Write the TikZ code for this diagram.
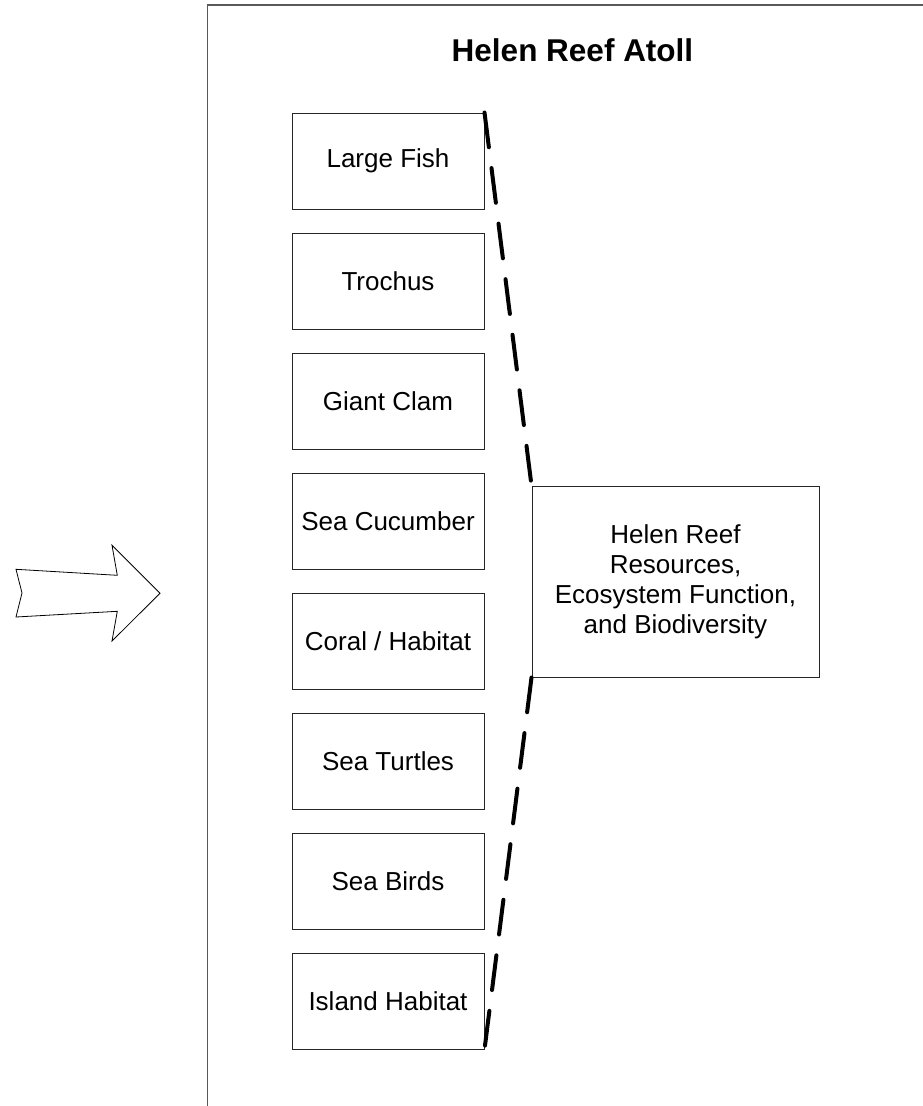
\documentclass[tikz,border=0pt]{standalone}
\usepackage{fontspec}
\setmainfont{Liberation Sans}
\begin{document}
\begin{tikzpicture}[x=1pt,y=-1pt,
  item/.style={draw=black!85, line width=1pt, minimum width=192pt, minimum height=96pt, inner sep=0pt, font=\fontsize{26}{30}\selectfont, align=center},
  bigbox/.style={draw=black!85, line width=1pt, minimum width=287pt, minimum height=191pt, inner sep=0pt, font=\fontsize{26}{30}\selectfont, align=center},
  link/.style={line width=4pt, dash pattern=on 35pt off 21pt, line cap=round},
  frame/.style={draw=black!65, line width=1.5pt}]
\useasboundingbox (0,0) rectangle (922,1106);
% frame
\draw[frame] (207.5,1110) -- (207.5,5) -- (930,5);
% title
\node[anchor=base, inner sep=0pt, font=\fontsize{31.5}{36}\selectfont\bfseries] (title) at (572.5,61) {Helen Reef Atoll};
% input arrow
\draw[line width=0.8pt, fill=white] (16,569.3) -- (117.3,575.3) -- (112,545.3) -- (160,593.3) -- (112,641) -- (117.3,611.3) -- (16,617) -- (22,593) -- cycle;
% boxes
\node[item] (fish) at (388,161) {Large Fish};
\node[item] (troch) at (388,281) {Trochus};
\node[item] (clam) at (388,401) {Giant Clam};
\node[item] (cuc) at (388,521) {Sea Cucumber};
\node[item] (coral) at (388,641) {Coral / Habitat};
\node[item] (turt) at (388,761) {Sea Turtles};
\node[item] (birds) at (388,881) {Sea Birds};
\node[item] (island) at (388,1001) {Island Habitat};
\node[bigbox] (res) at (675.5,581.5) {Helen Reef\\Resources,\\Ecosystem Function,\\and Biodiversity};
% dashed connectors
\draw[link] (fish.north east) -- (res.north west);
\draw[link] (res.south west) -- (island.south east);
\end{tikzpicture}
\end{document}
